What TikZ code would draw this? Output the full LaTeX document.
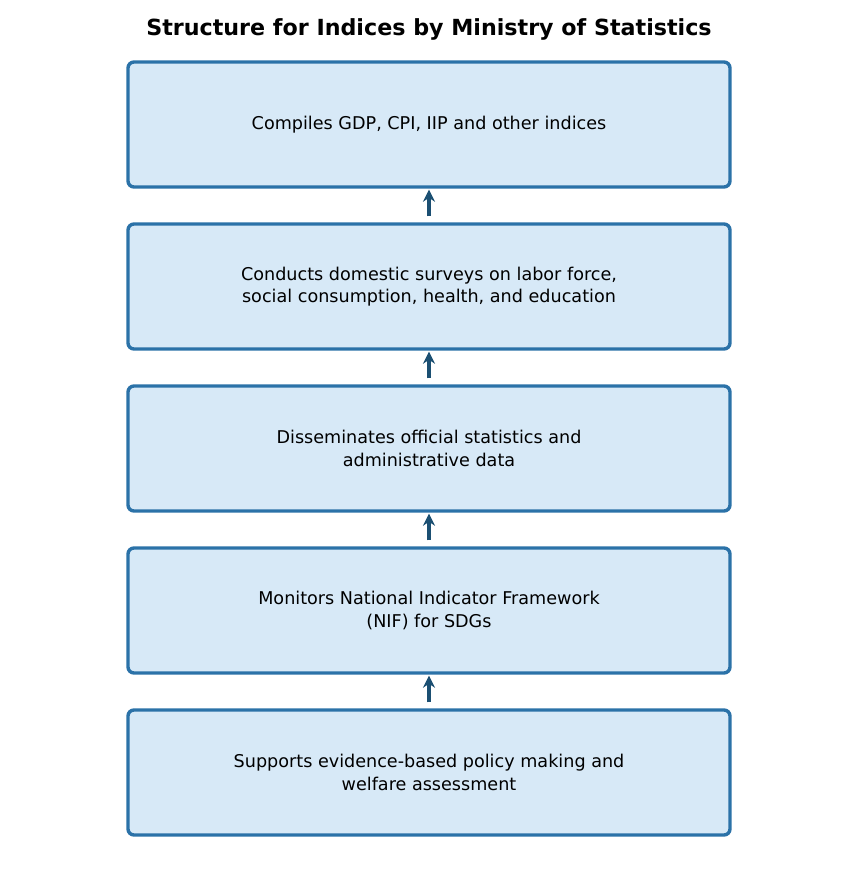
\documentclass[tikz,border=0pt]{standalone}
\usepackage{fontspec}
\setmainfont{DejaVu Sans}
\usetikzlibrary{arrows.meta}
\definecolor{boxfill}{HTML}{D7E9F7}
\definecolor{boxline}{HTML}{2B72A8}
\definecolor{arr}{HTML}{1B4F72}
\begin{document}
\begin{tikzpicture}[x=1pt,y=-1pt,
  box/.style={draw=boxline,fill=boxfill,line width=3.4pt,rounded corners=6pt,minimum width=602pt,minimum height=125pt,align=center,font=\fontsize{17.6}{22.5}\selectfont,inner sep=0pt},
  arrow/.style={draw=arr,line width=4pt,-{Stealth[length=12pt,width=12pt]}}]
\useasboundingbox (0,0) rectangle (858,877);
\node[font=\bfseries\fontsize{22.2}{26}\selectfont] (title) at (429,29) {Structure for Indices by Ministry of Statistics};
\node[box] (b1) at (429,124.5) {Compiles GDP, CPI, IIP and other indices};
\node[box] (b2) at (429,286.5) {Conducts domestic surveys on labor force,\\social consumption, health, and education};
\node[box] (b3) at (429,448.5) {Disseminates official statistics and\\administrative data};
\node[box] (b4) at (429,610.5) {Monitors National Indicator Framework\\(NIF) for SDGs};
\node[box] (b5) at (429,772.5) {Supports evidence-based policy making and\\welfare assessment};
\foreach \a/\b in {b2/b1,b3/b2,b4/b3,b5/b4}{
  \draw[arrow] ([yshift=6pt]\a.north) -- ([yshift=-1pt]\b.south);
}
\end{tikzpicture}
\end{document}
